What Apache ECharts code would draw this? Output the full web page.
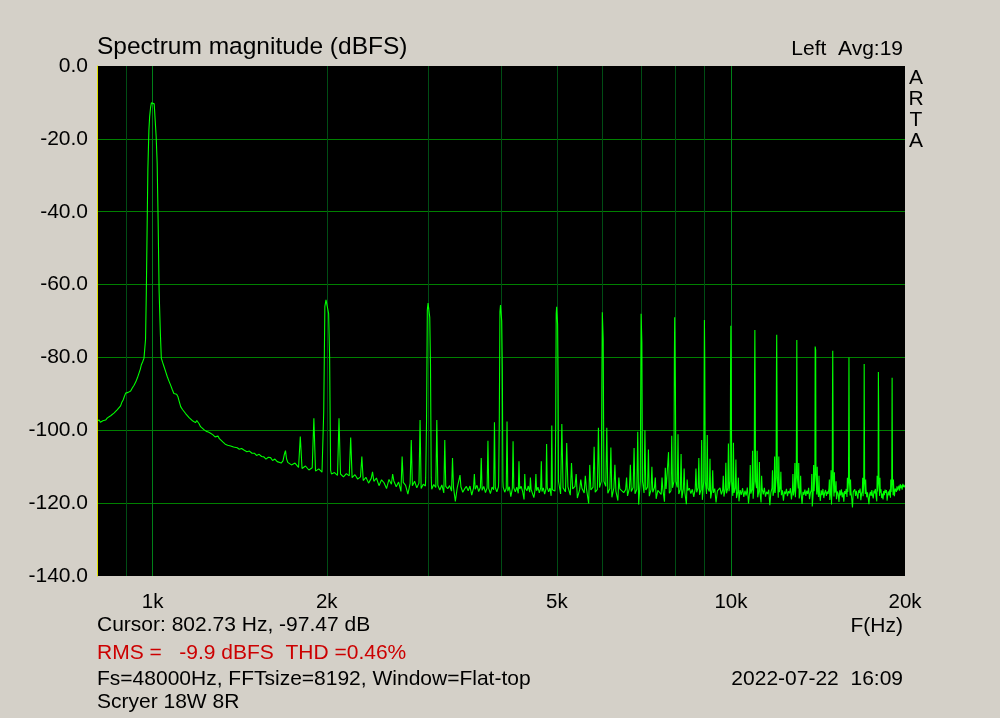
<!DOCTYPE html>
<html>
<head>
<meta charset="utf-8">
<script src="https://cdn.jsdelivr.net/npm/echarts@6/dist/echarts.min.js"></script>
<style>
html,body{margin:0;padding:0;background:#d4d0c8;}
#chart{width:1000px;height:718px;}
</style>
</head>
<body>
<div id="chart"></div>
<script>
// ---------- DATA ----------
// Y axis ticks (dBFS)
const yTicks = [0, -20, -40, -60, -80, -100, -120, -140];
// X axis labelled frequencies and their texts
const xLabelHz = [1000, 2000, 5000, 10000, 20000];
const xLabelText = ['1k', '2k', '5k', '10k', '20k'];
// vertical grid lines (Hz); major ones drawn brighter
const xGridMinorHz = [900, 2000, 3000, 4000, 5000, 6000, 7000, 8000, 9000];
const xGridMajorHz = [1000, 10000];
// cursor position
const cursorHz = 802.73;
// harmonic frequencies (fundamental + harmonics)
const harmonicHz = [1000,2000,3000,4000,5000,6000,7000,8000,9000,10000,11000,12000,13000,14000,15000,16000,17000,18000,19000];

// fundamental + its skirt, 800 .. 1700 Hz : [Hz, dB]
const skirtPts = [
[801,-97.3],[803,-97.4],[808,-97.2],[812,-97.8],[815,-98.0],[820,-97.4],[825,-97.6],[829,-97.2],[835,-96.6],[840,-96.9],[846,-96.0],
[852,-95.8],[857,-95.3],[863,-94.9],[868,-94.4],[874,-93.9],[880,-93.3],[884,-92.4],[889,-91.7],[894,-90.6],[898,-89.8],
[903,-90.3],[907,-89.6],[910,-89.8],[916,-89.2],[922,-88.4],[928,-87.7],[935,-86.7],[941,-85.6],[947,-84.3],[952,-83.2],
[956,-82.0],[961,-81.2],[966,-80.2],[969,-79.8],[972,-75.0],[975,-62.0],[978,-45.0],[981,-28.5],[985,-17.6],[988,-13.9],
[992,-11.2],[995,-10.1],[998,-9.9],[1002,-9.9],[1006,-10.4],[1011,-10.8],[1014,-19.4],[1018,-26.7],[1022,-43.0],[1026,-62.0],
[1031,-73.3],[1035,-80.2],[1040,-81.3],[1046,-82.5],[1053,-83.9],[1060,-85.3],[1067,-86.5],[1074,-87.6],[1081,-88.8],[1088,-89.9],
[1094,-90.4],[1100,-90.1],[1106,-90.8],[1112,-92.2],[1118,-93.5],[1126,-94.3],[1133,-94.8],[1140,-95.4],[1148,-95.8],[1156,-96.5],
[1163,-96.9],[1170,-97.3],[1178,-97.6],[1186,-97.9],[1192,-97.3],[1197,-97.0],[1203,-98.2],[1210,-99.0],[1218,-99.5],[1228,-99.9],
[1238,-100.3],[1248,-100.5],[1259,-100.8],[1270,-101.2],[1282,-101.8],[1290,-101.3],[1297,-101.6],[1304,-102.3],[1310,-102.7],[1322,-103.2],
[1335,-103.8],[1348,-104.1],[1364,-104.3],[1380,-104.6],[1400,-104.8],[1412,-105.2],[1425,-105.0],[1438,-105.4],[1455,-105.9],[1470,-105.7],
[1485,-106.3],[1499,-106.3],[1512,-106.9],[1528,-106.6],[1543,-107.2],[1557,-107.3],[1570,-107.9],[1585,-107.4],[1599,-107.5],[1612,-108.3],
[1627,-107.9],[1642,-108.6],[1655,-108.1],[1668,-109.0],[1680,-108.4],[1690,-106.5],[1697,-105.6],[1704,-107.8]
];

// harmonic peaks with their window lobe : [Hz, dB]
const peakPts = [
[1966,-111],[1976,-95],[1985,-66],[1994,-64.2],[2003,-64.4],[2015,-68],[2023,-80],[2031,-111],
[2966,-113],[2976,-97],[2985,-67],[2994,-65.1],[3003,-65.3],[3014,-69],[3023,-82],[3032,-113],
[3966,-114],[3976,-97],[3986,-67.5],[3995,-65.6],[4004,-65.9],[4014,-70],[4024,-83],[4033,-114],
[4967,-114],[4977,-98],[4987,-68],[4996,-66.1],[5005,-66.4],[5015,-71],[5024,-84],[5033,-114],
[5968,-114],[5980,-90],[5992,-67.6],[6002,-67.3],[6013,-75],[6030,-114],
[6970,-114],[6982,-90],[6993,-68],[7003,-67.7],[7014,-76],[7031,-114],
[7970,-114],[7983,-81],[7994,-69],[8004,-68.8],[8016,-88],[8031,-114],
[8972,-114],[8988,-85],[8998,-69.7],[9010,-80],[9030,-114],
[9970,-114],[9985,-85],[9997,-71.3],[10010,-80],[10030,-114],
[10970,-114],[10988,-83.7],[11000,-72.5],[11014,-88],[11030,-114],
[11970,-113],[11988,-82.5],[12000,-73.8],[12014,-90],[12030,-113],
[12970,-113],[12988,-93],[13000,-75.2],[13014,-95],[13030,-113],
[13970,-112],[13986,-77],[14000,-76.6],[14014,-78],[14030,-112],
[14970,-113],[14988,-87],[15000,-78.2],[15014,-95],[15030,-113],
[15970,-114],[15988,-95],[16000,-80.0],[16014,-96],[16030,-114],
[16970,-114],[16988,-100],[17000,-81.8],[17014,-97],[17030,-114],
[17970,-114],[17988,-84],[18000,-83.5],[18014,-96],[18030,-114],
[18970,-114],[18988,-100],[19000,-85.6],[19014,-100],[19030,-114]
];

// modulation sidebands around each harmonic : [Hz, dB]
const sidebandPts = [
[1800,-101.7],[1900,-96.7],[2100,-96.7],[2200,-102.0],[2300,-107.2],[2400,-111.4],
[2600,-112.0],[2700,-107.2],[2800,-102.7],[2900,-97.2],[3100,-97.2],[3200,-102.7],[3300,-107.6],[3400,-112.3],
[3600,-112.0],[3700,-107.6],[3800,-102.9],[3900,-97.8],[4100,-97.6],[4200,-103.0],[4300,-108.5],[4400,-112.0],
[4500,-113.0],[4600,-112.0],[4700,-108.5],[4800,-103.8],[4900,-98.7],[5100,-98.3],[5200,-103.5],[5300,-109.0],[5400,-112.0],[5500,-113.5],
[5600,-112.5],[5700,-109.5],[5800,-104.5],[5900,-99.3],[6100,-99.3],[6200,-104.7],[6300,-109.5],[6400,-113.0],
[6600,-113.0],[6700,-109.5],[6800,-104.9],[6900,-100.4],[7100,-100.0],[7200,-105.3],[7300,-110.0],[7400,-113.0],
[7600,-113.0],[7700,-110.3],[7800,-106.0],[7900,-101.5],[8100,-101.1],[8200,-106.5],[8300,-110.5],[8400,-113.5],
[8700,-110.5],[8800,-107.6],[8900,-102.7],[9100,-101.3],[9200,-107.8],[9300,-111.0],
[9700,-112.5],[9800,-108.9],[9900,-103.6],[10100,-103.4],[10200,-108.0],[10300,-113.0],
[10800,-109.5],[10900,-105.6],[11100,-105.6],[11200,-108.7],[11300,-112.5],
[11800,-111.0],[11900,-107.2],[12100,-107.2],[12200,-111.4],
[12800,-112.0],[12900,-109.0],[13100,-109.0],[13200,-112.5],
[13800,-112.0],[13900,-109.5],[14100,-110.0],[14200,-112.5],
[14800,-113.5],[14900,-111.0],[15100,-111.5],[15200,-114.0],
[15900,-113.0],[16100,-113.5],[16900,-113.0],[17100,-113.5],
[17900,-112.5],[18100,-113.0],[18900,-113.5],[19100,-113.5]
];

// noise floor A: from 1712.5 Hz every 25 Hz (dB)
const floorAStart = 1712.5, floorAStep = 25;
const floorA = [
-108.8,-109.5,-109.0,-110.2,-110.5,-109.8,-110.9,-110.3,-111.2,-110.6,-111.5,-111.0,
-111.5,-112.0,-111.6,-112.4,-112.0,-112.8,-111.9,-112.5,-113.0,-112.2,-113.4,-112.8,
-113.8,-112.9,-114.5,-113.2,-114.0,-113.1,-115.2,-113.6,-114.4,-116.0,-113.5,-114.8,
-113.9,-115.5,-114.2,-116.8,-114.3,-115.1,-117.5,-114.6,-115.2,-114.0,-115.8,-114.5,
-116.0,-114.8,-115.3,-115.0,-115.5,-116.2,-114.9,-115.7,-115.1,-116.4,-115.0,-117.2,
-115.4,-116.0,-115.2,-116.7,-115.6,-119.5,-115.8,-116.3,-115.5,-117.0,-116.1,-115.4,
-116.6,-115.3,-117.8,-115.9,-116.2,-115.1,-116.8,-115.7,-116.5,-115.4,-117.1,-115.8,
-116.0,-117.4,-115.6,-116.3,-115.7,-116.9,-115.5,-116.1,-116.4,-115.6,-117.0,-115.9,
-116.7,-115.5,-118.2,-116.0,-115.8,-116.9,-115.6,-117.3,-116.1,-115.4,-116.8,-119.0,
-115.9,-116.6,-115.3,-117.0,-116.2,-115.7,-118.5,-116.0,-116.6,-115.6,-117.2,-115.9,
-116.8,-115.8,-117.5,-116.1,-115.7,-116.9,-115.9,-118.0,-116.3,-115.8,-116.7,-116.0
];
// noise floor B: from 5025 Hz every 50 Hz (dB)
const floorBStart = 5025, floorBStep = 50;
const floorB = [
-116.2,-117.5,-115.8,-116.9,-115.5,-117.8,-116.1,-115.4,-118.6,-116.3,
-115.9,-117.2,-116.0,-120.1,-116.4,-115.6,-117.0,-116.2,-115.7,-117.6,
-116.5,-115.4,-117.3,-116.0,-118.4,-115.8,-116.7,-119.3,-116.1,-115.6,
-117.1,-116.3,-118.0,-115.9,-116.8,-115.7,-117.4,-116.2,-120.4,-116.0,
-115.8,-117.2,-116.4,-115.6,-118.1,-116.3,-117.0,-115.7,-118.8,-116.5,
-116.0,-117.6,-116.2,-119.6,-116.1,-115.9,-117.3,-116.6,-115.8,-117.9,
-116.4,-115.7,-117.5,-116.2,-118.6,-116.0,-117.1,-120.3,-116.5,-115.9,
-117.4,-116.2,-118.3,-116.0,-117.0,-115.8,-117.7,-116.3,-119.1,-116.4,
-116.1,-117.5,-115.9,-116.8,-118.7,-116.3,-117.2,-116.0,-119.8,-116.6,
-116.9,-115.8,-117.6,-116.4,-118.2,-116.1,-117.3,-115.9,-116.7,-117.5
];
// noise floor C: from 10025 Hz every 50 Hz (dB)
const floorCStart = 10025, floorCStep = 50;
const floorC = [
-116.5,-118.0,-117.2,-115.8,-118.6,-116.9,-119.5,-116.4,-117.7,-115.9,
-118.3,-116.6,-117.9,-115.7,-120.1,-116.8,-117.4,-116.2,-118.8,-116.5,
-117.0,-115.9,-118.4,-116.7,-117.3,-119.8,-116.1,-117.6,-115.8,-118.2,
-116.9,-117.5,-116.3,-120.6,-117.1,-115.9,-118.0,-116.6,-117.2,-116.0,
-116.4,-118.5,-117.0,-115.7,-117.8,-116.5,-119.3,-116.8,-117.5,-116.1,
-118.1,-116.7,-117.3,-115.9,-119.0,-116.4,-117.9,-116.2,-118.4,-116.8,
-117.2,-116.0,-118.7,-116.5,-117.4,-120.2,-116.9,-117.7,-116.3,-118.0,
-116.6,-117.5,-115.8,-118.9,-117.1,-116.4,-120.9,-117.3,-116.7,-118.2,
-116.9,-117.6,-116.2,-118.3,-117.0,-119.4,-116.5,-117.8,-116.1,-118.6,
-117.2,-116.4,-118.0,-116.8,-117.5,-115.9,-119.1,-116.6,-120.4,-117.0,
-116.7,-118.2,-117.1,-116.3,-118.9,-116.8,-117.4,-119.7,-116.5,-117.9,
-116.2,-118.4,-117.0,-119.6,-116.7,-117.5,-116.1,-118.3,-116.9,-117.6,
-116.4,-117.9,-116.8,-118.6,-121.2,-116.9,-117.3,-116.2,-118.0,-116.6,
-117.7,-118.8,-116.5,-117.2,-116.0,-119.2,-117.4,-116.7,-118.1,-116.3,
-116.8,-117.5,-116.2,-118.4,-117.0,-116.5,-120.3,-117.6,-116.9,-118.0,
-116.4,-117.9,-118.7,-116.6,-117.3,-116.1,-118.2,-119.5,-116.8,-117.4,
-116.5,-118.0,-117.1,-116.2,-118.6,-117.4,-119.0,-116.7,-117.8,-116.3,
-117.2,-116.4,-119.3,-117.6,-116.8,-117.9,-116.3,-118.5,-116.9,-117.1,
-116.6,-117.8,-116.2,-118.1,-116.0,-115.7,-116.9,-115.4,-116.5,-115.8,
-115.2,-116.6,-114.8,-115.9,-115.1,-116.3,-114.7,-115.6,-115.0,-115.7
];

// ---------- BUILD ----------
function nearHarmonic(f) { return harmonicHz.some(h => Math.abs(f - h) < 36); }
const pts = [];
skirtPts.forEach(p => pts.push(p));
[[floorA, floorAStart, floorAStep], [floorB, floorBStart, floorBStep], [floorC, floorCStart, floorCStep]]
  .forEach(([arr, start, step]) => arr.forEach((v, i) => {
    const f = start + i * step;
    if (!nearHarmonic(f)) pts.push([f, v]);
  }));
peakPts.forEach(p => pts.push(p));
sidebandPts.forEach(p => pts.push(p));
pts.sort((a, b) => a[0] - b[0]);

// cursor line spans the whole y range at the cursor frequency
const cursorLine = [[cursorHz, yTicks[yTicks.length - 1]], [cursorHz, yTicks[0]]];

const FONT = '"Liberation Sans", Arial, sans-serif';
const chart = echarts.init(document.getElementById('chart'), null, {renderer: 'canvas'});

const option = {
  backgroundColor: '#d4d0c8',
  animation: false,
  grid: {left: 97, right: 95, top: 66, bottom: 142, show: true, backgroundColor: '#000', borderWidth: 0},
  xAxis: {
    type: 'log', logBase: 10, min: 801.13, max: 20000,
    axisLine: {show: false}, axisTick: {show: false}, axisLabel: {show: false}, splitLine: {show: false}
  },
  yAxis: {
    type: 'value', min: yTicks[yTicks.length - 1], max: yTicks[0], interval: 20,
    axisLine: {show: true, onZero: false, lineStyle: {color: '#e0e000', width: 1}},
    axisTick: {show: false},
    axisLabel: {formatter: v => v.toFixed(1), color: '#000', fontSize: 21, fontFamily: FONT, margin: 9},
    splitLine: {show: true, showMinLine: false, showMaxLine: false, lineStyle: {color: '#008000', width: 1}}
  },
  series: [
    {
      type: 'line', data: [], silent: true, z: 1,
      markLine: {
        silent: true, symbol: 'none', animation: false, z: 1,
        label: {show: false},
        data: [
          ...xGridMinorHz.map(h => ({xAxis: h, lineStyle: {color: '#004d14', width: 1, type: 'solid'}})),
          ...xGridMajorHz.map(h => ({xAxis: h, lineStyle: {color: '#008018', width: 1, type: 'solid'}}))
        ]
      }
    },
    {
      name: 'Cursor', type: 'line', data: cursorLine, silent: true, z: 4, clip: false,
      showSymbol: false, symbol: 'none',
      lineStyle: {color: '#e0e000', width: 1}
    },
    {
      type: 'line', data: [], silent: true, z: 1,
      markLine: {
        silent: true, symbol: 'none', animation: false,
        lineStyle: {color: 'rgba(0,0,0,0)', width: 0},
        label: {show: true, position: 'start', distance: 16, color: '#000', fontSize: 20.5, fontFamily: FONT},
        data: xLabelHz.map((h, i) => ({xAxis: h, label: {show: true, formatter: xLabelText[i]}}))
      }
    },
    {
      name: 'Spectrum', type: 'line', data: pts, z: 3,
      showSymbol: false, symbol: 'none', sampling: null, smooth: false,
      lineStyle: {color: '#00ff00', width: 1.1},
      itemStyle: {color: '#00ff00'}
    }
  ],
  graphic: [
    {type: 'text', x: 97, y: 47, style: {text: 'Spectrum magnitude (dBFS)', font: '24.5px ' + FONT, fill: '#000', align: 'left', verticalAlign: 'middle'}},
    {type: 'text', x: 903, y: 49, style: {text: 'Left  Avg:19', font: '21px ' + FONT, fill: '#000', align: 'right', verticalAlign: 'middle'}},
    {type: 'text', x: 916, y: 78, style: {text: 'A', font: '21px ' + FONT, fill: '#000', align: 'center', verticalAlign: 'middle'}},
    {type: 'text', x: 916, y: 99, style: {text: 'R', font: '21px ' + FONT, fill: '#000', align: 'center', verticalAlign: 'middle'}},
    {type: 'text', x: 916, y: 120, style: {text: 'T', font: '21px ' + FONT, fill: '#000', align: 'center', verticalAlign: 'middle'}},
    {type: 'text', x: 916, y: 141, style: {text: 'A', font: '21px ' + FONT, fill: '#000', align: 'center', verticalAlign: 'middle'}},
    {type: 'text', x: 97, y: 625, style: {text: 'Cursor: 802.73 Hz, -97.47 dB', font: '21px ' + FONT, fill: '#000', align: 'left', verticalAlign: 'middle'}},
    {type: 'text', x: 903, y: 626, style: {text: 'F(Hz)', font: '21px ' + FONT, fill: '#000', align: 'right', verticalAlign: 'middle'}},
    {type: 'text', x: 97, y: 653, style: {text: 'RMS =   -9.9 dBFS  THD =0.46%', font: '21px ' + FONT, fill: '#cc0000', align: 'left', verticalAlign: 'middle'}},
    {type: 'text', x: 97, y: 679, style: {text: 'Fs=48000Hz, FFTsize=8192, Window=Flat-top', font: '21px ' + FONT, fill: '#000', align: 'left', verticalAlign: 'middle'}},
    {type: 'text', x: 903, y: 679, style: {text: '2022-07-22  16:09', font: '21px ' + FONT, fill: '#000', align: 'right', verticalAlign: 'middle'}},
    {type: 'text', x: 97, y: 702, style: {text: 'Scryer 18W 8R', font: '21px ' + FONT, fill: '#000', align: 'left', verticalAlign: 'middle'}}
  ]
};
chart.setOption(option);
</script>
</body>
</html>
